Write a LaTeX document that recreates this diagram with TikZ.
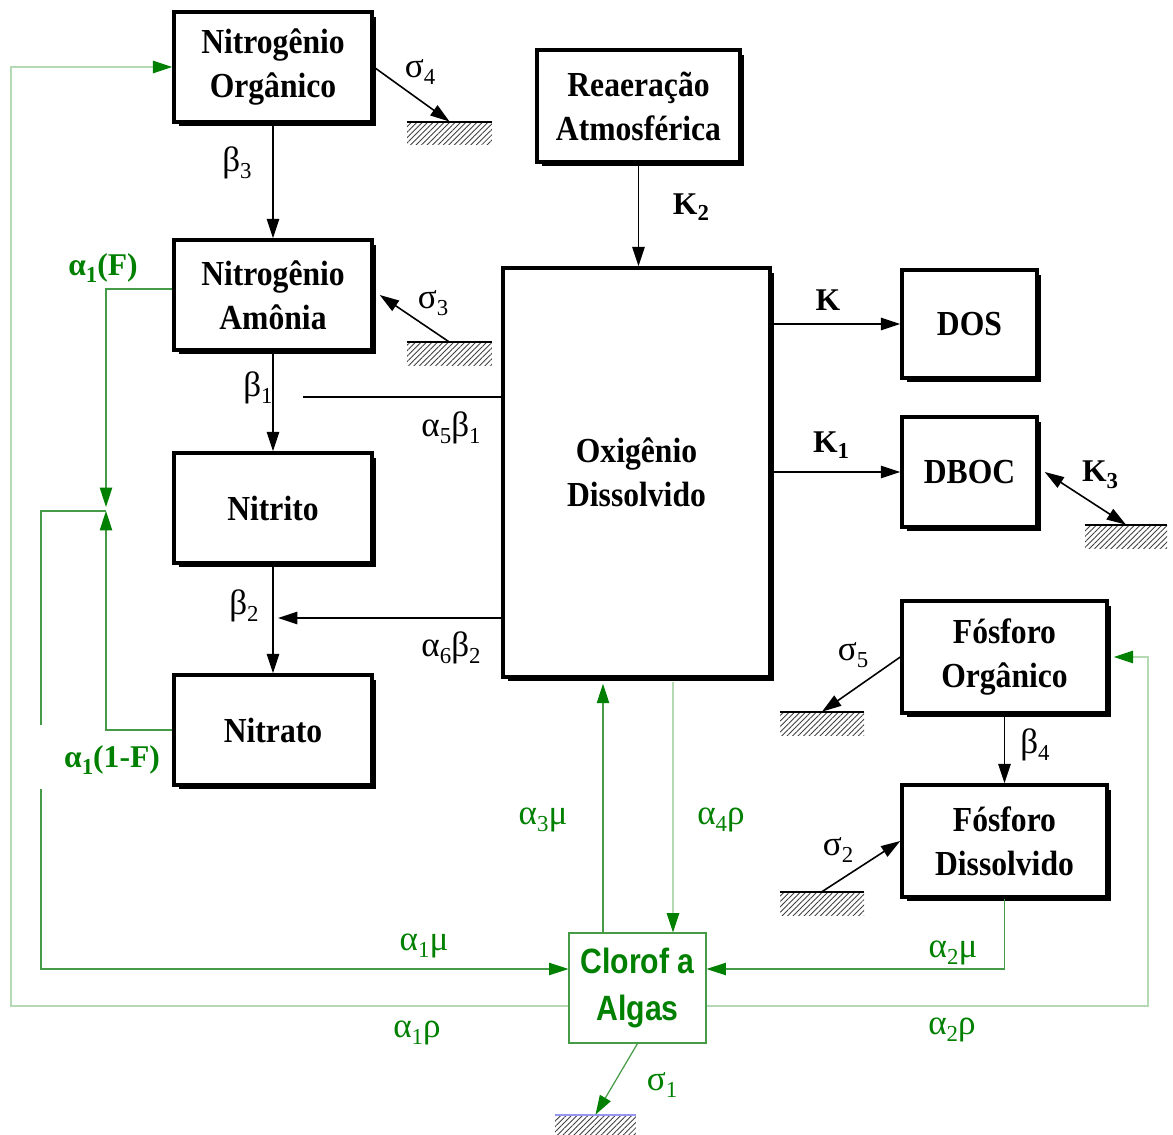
\documentclass[tikz,border=0pt]{standalone}
\usepackage{fontspec}
\setmainfont{Liberation Serif}
\newfontfamily\boxfont[FakeStretch=0.9]{Liberation Serif}
\newfontfamily\algfont[FakeStretch=0.86]{Liberation Sans}
\usetikzlibrary{arrows.meta,shadows,patterns.meta}

\definecolor{ggreen}{RGB}{0,128,0}
\definecolor{gline}{RGB}{70,155,70}
\definecolor{glightline}{RGB}{180,218,180}
\definecolor{gblue}{RGB}{150,150,240}

% subscript for the rate names
\newcommand{\ix}[1]{\raisebox{-0.45ex}{\fontsize{13}{13}\selectfont #1}}

\tikzset{
  box/.style={draw, line width=2pt, fill=white, align=center, inner sep=0pt,
    font=\boxfont\bfseries\fontsize{20}{25}\selectfont,
    drop shadow={shadow xshift=0.09cm, shadow yshift=-0.09cm, fill=black, opacity=1}},
  algbox/.style={draw=gline, line width=0.6pt, fill=white, align=center, inner sep=0pt,
    text=ggreen, font=\algfont\bfseries\fontsize{20}{27}\selectfont},
  ground/.style={inner sep=0pt, minimum height=0.46cm,
    pattern={Lines[angle=45,distance=2.2pt,line width=0.5pt]}, pattern color=black!75},
  lbl/.style={inner sep=0pt, font=\fontsize{20}{20}\selectfont},
  klbl/.style={inner sep=0pt, font=\bfseries\fontsize{18}{18}\selectfont},
  glbl/.style={lbl, text=ggreen},
  link/.style={line width=0.9pt},
  glink/.style={line width=0.7pt, gline},
  glight/.style={line width=0.9pt, glightline},
  gar/.style={-{Triangle[length=11pt,width=7pt,color=ggreen]}}
}

\begin{document}
\begin{tikzpicture}[x=0.02cm,y=-0.02cm,>={Triangle[length=11pt,width=7pt]}]
\useasboundingbox (0,0) rectangle (1173,1135);

% Nitrogen chain
\node[box,minimum width=3.96cm,minimum height=2.2cm] (norg) at (273,67) {Nitrogênio\\Orgânico};
\node[box,minimum width=3.96cm,minimum height=2.2cm] (namo) at (273,295) {Nitrogênio\\Amônia};
\node[box,minimum width=3.96cm,minimum height=2.2cm] (nitri) at (273,508) {Nitrito};
\node[box,minimum width=3.96cm,minimum height=2.2cm] (nitra) at (273,730) {Nitrato};

% Oxygen and the right column
\node[box,minimum width=4.06cm,minimum height=2.24cm] (reaer) at (638.5,106) {Reaeração\\Atmosférica};
\node[box,minimum width=5.34cm,minimum height=8.18cm] (oxig) at (636.5,472.5) {Oxigênio\\Dissolvido};
\node[box,minimum width=2.7cm,minimum height=2.16cm] (dos) at (969.5,324) {DOS};
\node[box,minimum width=2.7cm,minimum height=2.2cm] (dboc) at (969.5,472) {DBOC};
\node[box,minimum width=4.1cm,minimum height=2.24cm] (forg) at (1004.5,657) {Fósforo\\Orgânico};
\node[box,minimum width=4.1cm,minimum height=2.24cm] (fdis) at (1004.5,841) {Fósforo\\Dissolvido};

% Algae
\node[algbox,minimum width=2.74cm,minimum height=2.2cm] (alg) at (637.5,988) {Clorof a\\Algas};

% Sediment grounds
\node[ground,minimum width=1.7cm] (g4) at (449.5,133.5) {};
\node[ground,minimum width=1.7cm] (g3) at (449.5,354) {};
\node[ground,minimum width=1.64cm] (gk3) at (1126,536.5) {};
\node[ground,minimum width=1.68cm] (g5) at (822,723.5) {};
\node[ground,minimum width=1.68cm] (g2) at (822,903.5) {};
\node[ground,minimum width=1.62cm] (g1) at (595.5,1126.5) {};
\foreach \g in {g4,g3,gk3,g5,g2}
  \draw[line width=1.2pt] (\g.north west) -- (\g.north east);
\draw[line width=1.2pt,gblue] (g1.north west) -- (g1.north east);

% Black connectors
\draw[link,->] (norg) -- (namo);
\draw[link,->] (norg.east) -- (g4.north);
\draw[link,->] (g3.north) -- ([xshift=0.12cm]namo.east);
\draw[link,->] (namo) -- (nitri);
\coordinate (a5) at (303,397);
\draw[link] (oxig.west |- a5) -- (a5);
\draw[link,->] (nitri) -- (nitra);
\coordinate (a6) at (278,618);
\draw[link,->] (oxig.west |- a6) -- (a6);
\draw[link,->] (reaer.south) -- (reaer.south |- oxig.north);
\draw[link,->] (oxig.east |- dos) -- (dos.west);
\draw[link,->] (oxig.east |- dboc) -- (dboc.west);
\draw[link,<->] ([xshift=0.12cm]dboc.east) -- (gk3.north);
\draw[link,->] (forg.west) -- (g5.north);
\draw[link,->] (forg) -- (fdis);
\draw[link,->] (g2.north) -- (fdis.west);

% Green connectors
\coordinate (jn) at (106,511);
\coordinate (fx) at (106,289);
\coordinate (mu) at (41,969);
\coordinate (gt) at (41,725);
\coordinate (gb) at (41,789);
\coordinate (rl) at (11,1006);
\coordinate (rr) at (1148,1006);
\coordinate (a3) at (603,0);
\coordinate (a4) at (673,0);
\draw[glink,gar] (namo.west |- fx) -| ([yshift=0.08cm]jn);
\draw[glink,gar] (nitra.west) -| (jn);
\draw[glink] (jn) -| (gt);
\draw[glink,gar] (gb) |- (alg.west |- mu);
\draw[glight,gar] (alg.west |- rl) -- (rl) |- (norg.west);
\draw[glight,gar] (alg.east |- rr) -- (rr) |- ([xshift=0.1cm]forg.east);
\draw[glink,gar] (fdis.south) |- (alg.east |- mu);
\draw[glink,gar] (alg.north -| a3) -- ([yshift=-0.1cm]oxig.south -| a3);
\draw[glight,gar] ([yshift=-0.06cm]oxig.south -| a4) -- (alg.north -| a4);
\draw[glink,gar] (alg.south) -- (g1.north);

% Rate labels
\node[lbl] (lb3) at (237,163) {β\ix{3}};
\node[lbl] (ls4) at (420,72) {σ\ix{4}};
\node[lbl] (ls3) at (433,303) {σ\ix{3}};
\node[glbl,font=\bfseries\fontsize{18}{18}\selectfont] (laf) at (103,268) {α\ix{1}(F)};
\node[lbl] (lb1) at (258,388) {β\ix{1}};
\node[lbl] (la5) at (451,428) {α\ix{5}β\ix{1}};
\node[lbl] (lb2) at (244,606) {β\ix{2}};
\node[lbl] (la6) at (451,648) {α\ix{6}β\ix{2}};
\node[glbl,font=\bfseries\fontsize{18}{18}\selectfont] (la1f) at (112,760) {α\ix{1}(1-F)};
\node[klbl] (lk2) at (691,207) {K\ix{2}};
\node[klbl] (lk) at (828,300) {K};
\node[klbl] (lk1) at (831,445) {K\ix{1}};
\node[klbl] (lk3) at (1100,475) {K\ix{3}};
\node[lbl] (ls5) at (853,655) {σ\ix{5}};
\node[lbl] (lb4) at (1035,745) {β\ix{4}};
\node[lbl] (ls2) at (838,850) {σ\ix{2}};
\node[glbl] (la3) at (543,820) {α\ix{3}μ};
\node[glbl] (la4) at (721,820) {α\ix{4}ρ};
\node[glbl] (la1m) at (424,946) {α\ix{1}μ};
\node[glbl] (la2m) at (953,953) {α\ix{2}μ};
\node[glbl] (la1r) at (417,1033) {α\ix{1}ρ};
\node[glbl] (la2r) at (952,1030) {α\ix{2}ρ};
\node[glbl] (ls1) at (662,1085) {σ\ix{1}};

\end{tikzpicture}
\end{document}
